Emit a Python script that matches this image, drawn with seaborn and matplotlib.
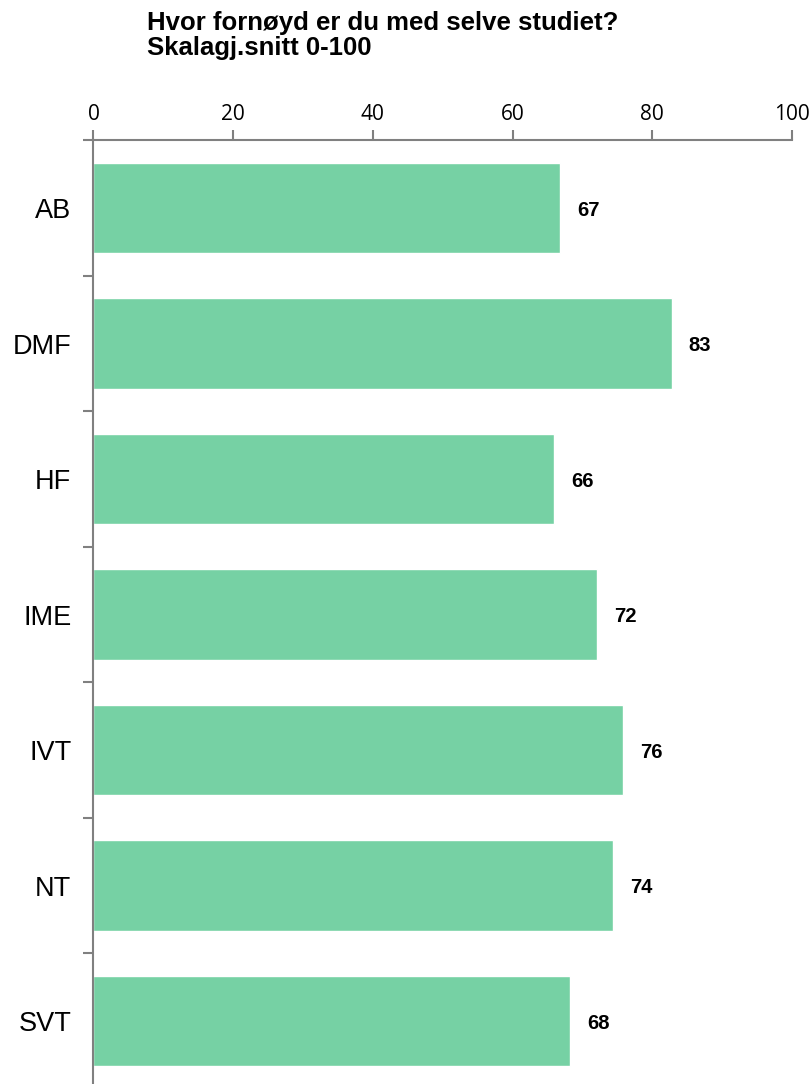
import numpy as np
import pandas as pd
import matplotlib
matplotlib.use("Agg")
import matplotlib.pyplot as plt
import seaborn as sns

# data
fakultet = ["AB", "DMF", "HF", "IME", "IVT", "NT", "SVT"]
snitt = [66.8, 82.8, 65.9, 72.1, 75.8, 74.4, 68.2]
x_ticks = [0, 20, 40, 60, 80, 100]

df = pd.DataFrame({"fakultet": fakultet, "snitt": snitt})

sns.set_style("white")
plt.rcParams["font.family"] = ["Liberation Sans", "DejaVu Sans"]
plt.rcParams["text.color"] = "black"
plt.rcParams["xtick.labelcolor"] = "black"
plt.rcParams["ytick.labelcolor"] = "black"

fig = plt.figure(figsize=(8.12, 10.84), dpi=100)
ax = fig.add_axes([93.5 / 812, -0.0044, (792 - 93.5) / 812, 0.875])

sns.barplot(data=df, x="snitt", y="fakultet", orient="h", color="#76d1a4",
            saturation=1, width=0.665, ax=ax)

ax.set_xlim(0, 100)
ax.set_ylim(len(fakultet) - 0.5, -0.5)
ax.set_xticks(x_ticks)
ax.xaxis.tick_top()
ax.set_xlabel("")
ax.set_ylabel("")

# y ticks sit between the categories
ax.set_yticks(np.arange(len(fakultet)), labels=fakultet, minor=False)
ax.set_yticks(np.arange(len(fakultet)) - 0.5, minor=True)
ax.tick_params(axis="y", which="major", length=0, pad=16, labelsize=19.5)
ax.tick_params(axis="y", which="minor", length=7, width=1.5, color="#808080", left=True)
ax.tick_params(axis="x", length=7, width=1.5, color="#808080", labelsize=15, pad=4,
               top=True, bottom=False)
for t in ax.get_xticklabels():
    t.set_family(["Open Sans", "DejaVu Sans"])

for side in ["right", "bottom"]:
    ax.spines[side].set_visible(False)
for side in ["top", "left"]:
    ax.spines[side].set_color("#808080")
    ax.spines[side].set_linewidth(1.5)

for i, v in enumerate(snitt):
    ax.annotate(f"{v:.0f}", (v, i), xytext=(17, -2), textcoords="offset pixels",
                ha="left", va="center", fontsize=14.5, fontweight="bold")

fig.text(147 / 812, 1 - 11 / 1084, "Hvor fornøyd er du med selve studiet?\nSkalagj.snitt 0-100",
         ha="left", va="top", fontsize=18.5, fontweight="bold", linespacing=1.05)

fig.savefig("out.png", dpi=100)
